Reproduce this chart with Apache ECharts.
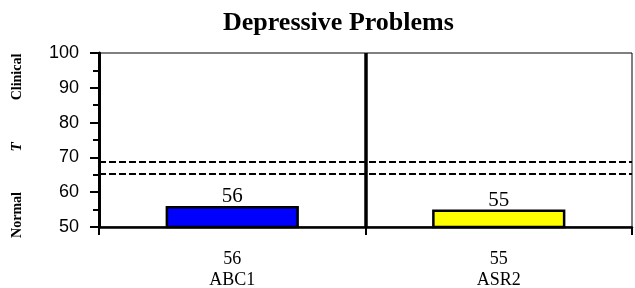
<!DOCTYPE html>
<html>
<head>
<meta charset="utf-8">
<script src="https://cdn.jsdelivr.net/npm/echarts@6/dist/echarts.min.js"></script>
<style>
  html, body { margin: 0; padding: 0; background: #fff; }
  #chart { width: 635px; height: 288px; }
</style>
</head>
<body>
<div id="chart"></div>
<script>
// scales shown on the profile
const categories = ["ABC1", "ASR2"];
const scores = [56, 55];
const barColors = ["#0000FF", "#FFFF00"];
// borderline / clinical cut-off lines
const cutoffs = [68.7, 65.4];
const yMin = 50, yMax = 100, yStep = 10;

const serif = "'Liberation Serif', 'Times New Roman', serif";
const sans = "'Liberation Sans', Arial, sans-serif";

const chart = echarts.init(document.getElementById("chart"));

const dashed = { color: "#000", width: 2, type: [7, 3] };

chart.setOption({
  animation: false,
  title: {
    text: "Depressive Problems",
    left: 218,
    top: 5,
    textStyle: { fontFamily: serif, fontSize: 26, fontWeight: "bold", color: "#000" },
  },
  grid: {
    left: 99, right: 3, top: 53, bottom: 61,
    outerBoundsMode: "none",
    show: true, borderColor: "#000", borderWidth: 1,
  },
  xAxis: [
    {
      type: "category",
      data: categories,
      axisLine: { lineStyle: { color: "#000", width: 2.5 } },
      axisTick: { show: true, length: 8, lineStyle: { color: "#000", width: 2 } },
      splitLine: { show: false },
      axisLabel: {
        margin: 22,
        fontFamily: serif,
        fontSize: 18,
        lineHeight: 21,
        color: "#000",
        formatter: (v, i) => scores[i] + "\n" + v,
      },
    },
    {
      // helper axis: one unit per category, used for the separator line
      type: "value",
      min: 0,
      max: categories.length,
      show: false,
    },
  ],
  yAxis: {
    type: "value",
    min: yMin,
    max: yMax,
    interval: yStep,
    axisLine: { show: true, lineStyle: { color: "#000", width: 3 } },
    axisTick: { show: true, length: 9, lineStyle: { color: "#000", width: 2 } },
    minorTick: { show: true, splitNumber: 2, length: 6, lineStyle: { color: "#000", width: 2 } },
    splitLine: { show: false },
    axisLabel: { margin: 20, fontFamily: sans, fontSize: 18, color: "#000" },
  },
  graphic: [
    { type: "text", x: 17, y: 77, rotation: Math.PI / 2,
      style: { text: "Clinical", font: "bold 14px " + serif, fill: "#000", align: "center", verticalAlign: "middle" } },
    { type: "text", x: 17, y: 147, rotation: Math.PI / 2,
      style: { text: "T", font: "italic bold 15px " + serif, fill: "#000", align: "center", verticalAlign: "middle" } },
    { type: "text", x: 17, y: 215, rotation: Math.PI / 2,
      style: { text: "Normal", font: "bold 14px " + serif, fill: "#000", align: "center", verticalAlign: "middle" } },
  ],
  series: [
    {
      type: "scatter",
      xAxisIndex: 1,
      data: [],
      silent: true,
      markLine: {
        silent: true,
        symbol: "none",
        label: { show: false },
        lineStyle: { color: "#000", width: 3.5, type: "solid" },
        data: [{ xAxis: 1 }],
      },
    },
    {
      type: "bar",
      barWidth: "50%",
      data: scores.map((v, i) => ({
        value: v,
        itemStyle: { color: barColors[i], borderColor: "#000", borderWidth: 2.5 },
      })),
      label: {
        show: true,
        position: "top",
        distance: -1,
        fontFamily: serif,
        fontSize: 21,
        color: "#000",
      },
      markLine: {
        silent: true,
        symbol: "none",
        label: { show: false },
        lineStyle: dashed,
        data: cutoffs.map((c) => ({ yAxis: c })),
      },
    },
  ],
});
</script>
</body>
</html>
